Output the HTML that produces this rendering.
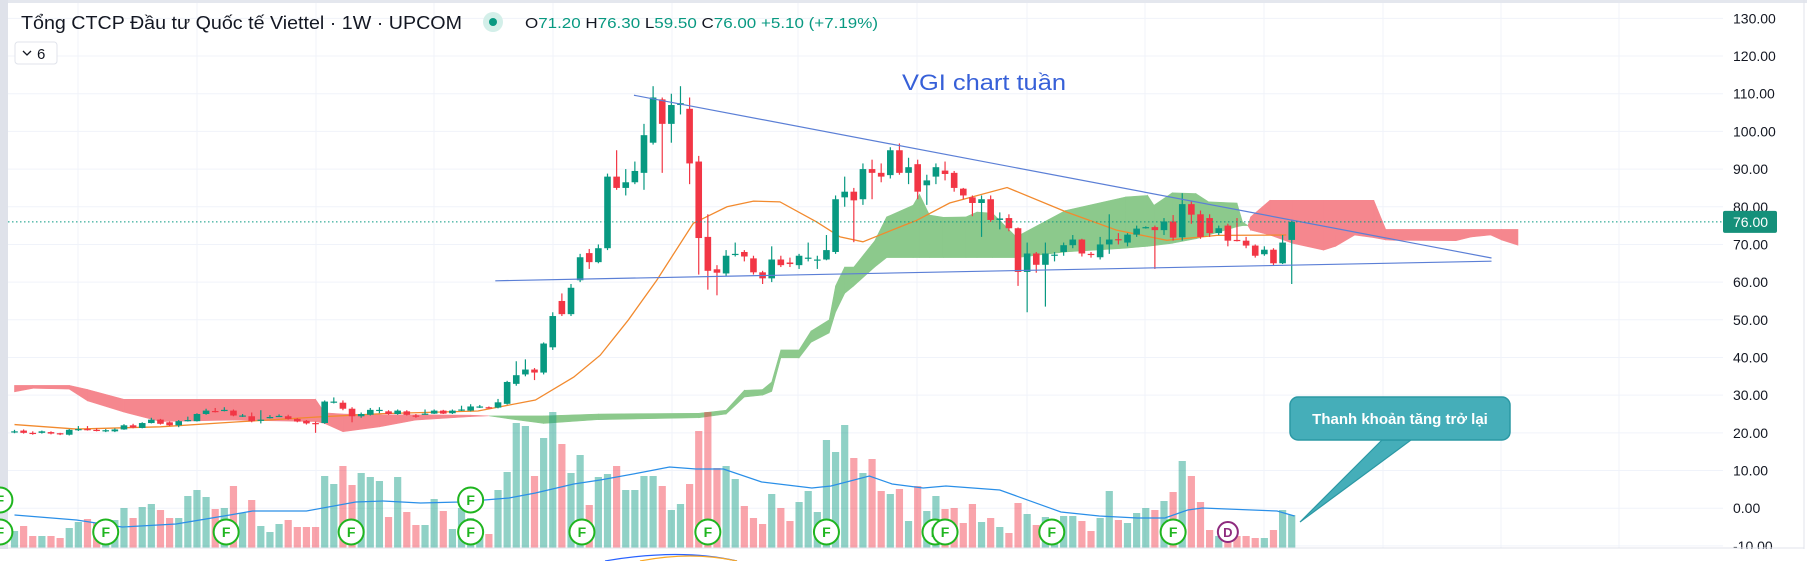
<!DOCTYPE html>
<html><head><meta charset="utf-8"><style>
html,body{margin:0;padding:0;background:#fff;}
svg{display:block;font-family:"Liberation Sans","DejaVu Sans",sans-serif;}
</style></head><body>
<svg id="chart" width="1807" height="561" viewBox="0 0 1807 561" xmlns="http://www.w3.org/2000/svg">
<rect x="0" y="0" width="1807" height="561" fill="#ffffff"/>
<rect x="0" y="0" width="1807" height="3" fill="#e4e7ee"/>
<rect x="0" y="0" width="8" height="561" fill="#dfe2ea"/>
<line x1="1804" y1="0" x2="1804" y2="561" stroke="#e0e3eb"/>
<g id="grid"></g>
<g id="cloud"></g>
<g id="vol"></g>
<g id="lines"></g>
<g id="candles"></g>
<g id="overlay"></g>
<g id="markers"></g>
<g id="axis"></g>
<line x1="8" y1="548" x2="1804" y2="548" stroke="#e0e3eb"/>
<rect x="0" y="549" width="1807" height="12" fill="#ffffff"/>
<path d="M605 561 Q680 548 737 561" fill="none" stroke="#2962ff" stroke-width="1.2"/>
<path d="M640 561 Q691 551 737 561" fill="none" stroke="#f9a825" stroke-width="1.2"/>

<g>
<text x="21" y="29" font-size="18" fill="#131722" textLength="441" lengthAdjust="spacingAndGlyphs">Tổng CTCP Đầu tư Quốc tế Viettel · 1W · UPCOM</text>
<circle cx="493" cy="22" r="10" fill="#d3efe9"/>
<circle cx="493" cy="22" r="4" fill="#089981"/>
<text x="525" y="28" font-size="15" fill="#131722" textLength="353" lengthAdjust="spacingAndGlyphs">O<tspan fill="#089981">71.20</tspan>  H<tspan fill="#089981">76.30</tspan>  L<tspan fill="#089981">59.50</tspan>  C<tspan fill="#089981">76.00</tspan>  <tspan fill="#089981">+5.10 (+7.19%)</tspan></text>
<g>
<rect x="15" y="42" width="42" height="22" rx="3" fill="#fff" stroke="#e0e3eb"/>
<path d="M23 51 L27 55 L31 51" fill="none" stroke="#131722" stroke-width="1.3"/>
<text x="37" y="59" font-size="15" fill="#131722">6</text>
</g>
</g>
<text x="902" y="90" font-size="22" fill="#3760d8" textLength="164" lengthAdjust="spacingAndGlyphs">VGI chart tuần</text>
</svg>
<script>
// ---------- data ----------
var opens=[20.2,20.6,20.0,20.0,20.2,19.9,19.5,20.9,21.0,20.8,20.6,20.4,20.9,22.0,21.3,22.6,23.5,22.8,22.0,23.3,23.1,25.0,25.8,26.0,25.9,24.6,24.4,23.4,24.1,24.4,24.4,23.7,23.2,22.6,22.6,28.3,28.0,26.4,24.4,24.8,26.0,25.7,25.0,25.7,24.6,25.0,25.1,25.9,25.2,26.1,25.9,27.0,26.8,26.7,27.7,33.0,35.5,36.8,36.0,42.7,55.0,51.5,60.5,67.7,65.3,69.0,88.0,85.0,86.5,89.0,97.0,108.5,102.0,107.0,106.0,92.0,72.0,63.4,62.3,67.3,68.0,66.3,62.6,61.0,66.0,65.2,64.5,66.5,66.0,66.0,68.0,82.5,84.0,82.0,90.0,89.0,88.4,95.0,89.0,91.3,85.7,88.0,89.6,89.0,84.8,82.5,81.0,82.0,76.5,77.0,74.3,62.7,67.6,64.6,67.1,68.0,69.8,71.3,67.5,66.6,70.0,71.4,70.5,72.6,74.3,74.6,73.8,76.1,71.9,80.7,78.0,77.0,73.0,75.0,71.2,71.0,69.7,67.4,68.6,65.0,71.2];
var closes=[20.4,20.0,19.9,20.4,19.8,19.8,20.8,21.0,20.9,20.6,20.7,20.9,22.0,21.4,22.6,23.5,22.4,22.0,23.1,23.4,25.0,25.9,25.7,26.1,24.6,24.6,23.1,23.5,24.2,24.5,23.7,23.0,22.5,22.5,28.3,28.3,26.4,24.4,25.0,26.1,26.1,25.0,25.9,24.8,24.5,25.1,25.9,25.1,25.9,26.2,27.0,27.0,26.7,28.1,33.5,35.3,36.8,36.0,43.7,51.0,51.5,58.5,66.6,65.3,69.0,88.0,85.0,86.5,89.5,99.0,109.0,102.0,107.0,107.5,91.5,71.7,63.0,62.5,67.0,67.5,66.8,62.6,61.0,66.0,64.5,64.8,67.0,66.5,66.0,68.5,82.0,84.0,81.7,90.0,89.0,88.0,95.0,89.0,90.5,84.0,87.0,90.5,88.7,85.0,83.0,81.0,82.0,76.5,76.9,74.3,62.7,67.6,64.6,67.6,67.3,69.8,71.3,67.6,67.3,70.0,71.3,71.2,72.6,74.2,74.6,73.8,76.1,71.8,80.7,77.9,72.0,73.0,74.3,71.0,71.0,69.7,67.0,68.6,65.0,70.5,76.0];
var highs=[20.8,20.9,20.4,20.6,20.4,20.0,21.0,21.8,21.8,21.2,21.0,21.2,22.3,22.4,22.8,24.0,23.7,23.0,23.4,24.3,25.2,26.4,26.6,26.8,26.2,25.0,25.4,26.0,24.7,24.9,24.8,23.9,23.4,23.0,28.6,29.4,28.6,26.8,25.4,26.6,26.8,26.0,26.2,26.0,25.0,26.2,26.2,26.1,26.2,27.2,27.6,27.4,27.0,29.0,33.8,39.0,39.5,37.2,44.0,52.0,57.0,59.5,67.5,68.8,70.0,88.8,95.0,90.0,92.0,102.0,112.0,109.0,110.0,112.0,109.0,93.5,78.0,64.5,68.5,70.5,68.5,67.0,63.0,69.5,67.0,66.5,67.5,70.5,67.0,72.5,83.0,88.0,85.0,91.5,92.5,91.5,95.8,96.8,93.0,92.5,88.5,91.5,92.0,89.5,85.0,83.0,83.0,83.0,78.5,78.0,74.5,70.5,68.0,70.5,68.0,70.5,72.5,71.5,68.0,72.0,78.0,73.0,73.0,75.0,74.8,75.0,77.0,77.8,83.6,81.5,79.0,78.0,75.0,75.5,77.0,72.0,70.0,69.5,69.0,72.5,76.3];
var lows=[19.9,19.8,19.5,19.8,19.6,19.4,19.3,20.5,20.6,20.4,20.2,20.2,20.8,21.2,21.2,22.5,22.2,21.8,21.5,23.0,23.0,24.8,25.4,25.7,24.4,24.2,22.8,22.5,23.8,24.2,23.5,22.8,22.2,20.0,22.4,27.8,26.0,22.8,24.0,24.6,25.2,24.8,24.8,24.6,24.0,24.8,25.0,25.0,25.0,25.8,25.7,26.6,26.5,26.5,27.5,32.5,35.0,34.0,35.5,42.0,51.0,51.0,60.0,63.5,65.0,68.5,84.5,83.0,86.0,84.5,96.5,89.0,97.0,104.5,86.0,62.0,58.0,56.5,61.5,66.8,65.5,62.0,59.5,60.0,64.0,64.0,63.5,65.5,63.5,65.8,67.5,80.0,70.6,80.5,82.0,86.5,87.5,88.5,86.0,82.0,80.5,86.0,87.0,84.0,82.0,77.5,72.0,76.0,74.0,73.5,59.0,52.0,62.5,53.5,65.5,67.0,69.0,66.8,66.5,66.0,67.5,70.0,69.5,72.0,74.2,63.5,72.5,71.0,71.0,75.5,71.5,72.0,72.5,69.5,70.8,69.0,66.5,67.0,64.5,64.8,59.5];
var volumes=[17,22,12,12,12,10,20,26,29,25,20,28,40,30,41,44,38,30,30,52,58,51,39,40,62,35,48,22,16,24,28,21,21,21,72,64,82,63,75,71,67,31,71,36,23,23,49,37,19,40,30,12,14,58,76,125,122,72,110,136,104,75,93,43,71,
74,82,58,58,72,72,62,38,44,64,117,136,80,82,69,42,30,24,54,40,27,46,57,36,108,96,123,90,75,89,57,54,59,27,62,37,52,39,40,25,44,26,30,21,15,45,34,23,31,28,32,32,27,17,30,57,28,25,35,40,38,47,56,87,72,46,
18,12,10,12,12,10,10,18,38,33];
var maIdx=[0,6.8,16,24.4,33.2,40.4,50.8,57.1,61.3,64.2,67.3,70.4,74.4,78.1,81,83.9,87.9,90.5,93,97.1,98.9,102.5,108.8,115.3,120.8,126.3,131.8,139.4];
var maVals=[22.2,21,21.6,22.9,24.2,25.1,25.8,28.7,34.8,40.6,50,60.5,75.6,80,81.5,81.3,76,72,70.7,74.7,76.4,81,85.1,78.6,73.8,71.1,72.4,72.5];
var volMaIdx=[0,6.8,11.8,17.7,23.6,26.1,32,37.4,40.4,44.5,48.8,54.2,57.1,61.3,64.2,68.4,71.8,74.7,77.7,81.9,87.4,89.5,93.7,96.2,99.6,102.1,108,114.7,118.9,123.1,126.1,128.6,130.2,138.4,140.3];
var volMaVals=[33,28,21,24,33,37,37,46,47,45,46,50,55,64,68,75,81,79,79,66,60,62,72,64,60,62,58,36,32,30,30,38,40,37,32];
var cloudIdx=[0,2,6,8,12,16,24,33,34,36,40,44,50,52,54,58,64,75,78,80,82,83,84,86,87.3,89.3,90,91,92,94.3,95.6,98.5,99.2,100.3,101.8,104.3,105.5,107.2,109.8,115.2,121.8,124.2,124.9,126.9,129.5,130.9,134,134.6,135.2,135.5,137.6,140.1,143.5,144.8,146.9,149,150.3,151.2,158,159.7,161.8,163,164.8];
var spanA=[30.9,31.8,31.6,28.5,25.5,23.0,23.4,23.0,22.5,20.3,21.6,23.4,24.3,24.5,24.5,24.5,25.0,25.2,26.0,31.3,31.5,33.5,42.0,42.0,47.0,50.0,59,64,64,71,77.3,80.4,83.3,77.8,77.2,77.3,78.6,78.3,72,79,82.6,83,80.4,83.7,83.5,81.3,81,76,75,73.8,72.5,70.3,68.5,69.5,72.5,71.8,71.2,71.1,71,72,72.5,71.2,69.8];
var spanB=[32.6,32.6,32.6,31.5,28.9,28.9,28.9,28.9,25.3,25.0,24.8,24.8,24.7,24.5,23.8,22.5,23.5,24.0,25.0,29.5,30.0,31.0,39.9,39.9,44,46.5,52,57,59,64,66.5,66.5,66.5,66.5,66.5,66.5,66.5,66.5,66.5,68,69,69.5,69.7,70.3,71.5,72.5,74.7,75,75,77.3,81.7,81.7,81.7,81.7,81.7,81.7,74,74,74,74,74,74,74];
var priceTicks=[130,120,110,100,90,80,70,60,50,40,30,20,10,0,-10];
var trendUpperIdx=[67.9,161.9];
var trendUpperVals=[109.6,66.4];
var trendLowerIdx=[52.7,161.9];
var trendLowerVals=[60.35,65.55];
var eventIdx=[-1.6,-1.6,10.0,23.2,36.9,50,50,62.2,76,89,100.9,102,113.7,127,133];
var eventRow=[1,0,0,0,0,1,0,0,0,0,0,0,0,0,0];
var eventType=["F","F","F","F","F","F","F","F","F","F","F","F","F","F","D"];
var lastPrice=76.0;
var gridX=[78,197,316,434,553,672,798,917,1027,1145,1264,1383,1501,1619];

// ---------- axes ----------
function xOf(i){return 14.5+i*9.123;}
function yOf(p){return 508.2-3.768*p;}
function vOf(v){return 548-v*1.0;}
var NS="http://www.w3.org/2000/svg";
function mk(tag,parent,attrs){var e=document.createElementNS(NS,tag);for(var k in attrs)e.setAttribute(k,attrs[k]);parent.appendChild(e);return e;}

var grid=document.getElementById('grid');
priceTicks.forEach(function(p){
  var l=mk('line',grid,{x1:8,x2:1723,y1:yOf(p),y2:yOf(p),stroke:'#f0f3fa','stroke-width':1});
  
  
});
gridX.forEach(function(x){
  var l=mk('line',grid,{x1:x,x2:x,y1:3,y2:548,stroke:'#f0f3fa','stroke-width':1});
  
  
});

// cloud
var cloud=document.getElementById('cloud');
for(var k=0;k<cloudIdx.length-1;k++){
  var x1=xOf(cloudIdx[k]),x2=xOf(cloudIdx[k+1]);
  var bull=(spanA[k]+spanA[k+1])>=(spanB[k]+spanB[k+1]);
  var col=bull?'#8cc98c':'#f5878e';
  var pts=x1+','+yOf(spanA[k])+' '+x2+','+yOf(spanA[k+1])+' '+x2+','+yOf(spanB[k+1])+' '+x1+','+yOf(spanB[k]);
  var pg=mk('polygon',cloud,{points:pts,fill:col,stroke:col,'stroke-width':0.6});
  
  
}

// volume
var vol=document.getElementById('vol');
volumes.forEach(function(v,i){
  var up=closes[i]>=opens[i];
  var r=mk('rect',vol,{x:xOf(i)-3.6,y:vOf(v),width:7.2,height:548-vOf(v),fill:up?'rgba(8,153,129,0.45)':'rgba(242,54,69,0.45)'});
  
  
});

// lines
var lines=document.getElementById('lines');
var vp=volMaIdx.map(function(ix,k){return xOf(ix)+','+vOf(volMaVals[k]);}).join(' ');
var vl=mk('polyline',lines,{points:vp,fill:'none',stroke:'#2a8fe8','stroke-width':1.2});


var mp=maIdx.map(function(ix,k){return xOf(ix)+','+yOf(maVals[k]);}).join(' ');
var ml=mk('polyline',lines,{points:mp,fill:'none',stroke:'#f28a2e','stroke-width':1.3});



// candles
var cg=document.getElementById('candles');
opens.forEach(function(o,i){
  var c=closes[i],up=c>=o,col=up?'#089981':'#f23645',x=xOf(i);
  var w=mk('line',cg,{x1:x,x2:x,y1:yOf(highs[i]),y2:yOf(lows[i]),stroke:col,'stroke-width':1.2});
  
  
  var top=yOf(Math.max(o,c)),bh=Math.max(1.2,yOf(Math.min(o,c))-top);
  var b=mk('rect',cg,{x:x-3.3,y:top,width:6.6,height:bh,fill:col});
  
  
});

// drawings
var ov=document.getElementById('overlay');
var tu=mk('line',ov,{x1:xOf(trendUpperIdx[0]),y1:yOf(trendUpperVals[0]),x2:xOf(trendUpperIdx[1]),y2:yOf(trendUpperVals[1]),stroke:'#5b7fd6','stroke-width':1.2});


var tl=mk('line',ov,{x1:xOf(trendLowerIdx[0]),y1:yOf(trendLowerVals[0]),x2:xOf(trendLowerIdx[1]),y2:yOf(trendLowerVals[1]),stroke:'#5b7fd6','stroke-width':1.2});


var pl=mk('line',ov,{x1:8,x2:1723,y1:yOf(lastPrice),y2:yOf(lastPrice),stroke:'#089981','stroke-width':1,'stroke-dasharray':'1.5,2.5'});


// callout
var cp=mk('path',ov,{d:'M1382 440 L1300 522 L1411 440 Z',fill:'#45aeb9',stroke:'#2b98a4','stroke-width':1.2});


var cb=mk('rect',ov,{x:1290,y:397,width:220,height:43,rx:8,fill:'#45aeb9',stroke:'#2b98a4','stroke-width':1.5});


var ct=mk('text',ov,{x:1400,y:424,'font-size':15,'font-weight':'bold',fill:'#ffffff','text-anchor':'middle'});
ct.textContent='Thanh khoản tăng trở lại';



// markers
var mg=document.getElementById('markers');
eventIdx.forEach(function(ix,k){
  var x=xOf(ix),y=eventRow[k]?500:532,isD=eventType[k]==='D';
  var col=isD?'#8e2a7e':'#1fb51f';
  var c=mk('circle',mg,{cx:x,cy:y,r:isD?10:12.5,fill:'#ffffff',stroke:col,'stroke-width':2});
  
  
  var t=mk('text',mg,{x:x,y:y+5,'font-size':isD?13:14,'font-weight':'bold',fill:col,'text-anchor':'middle'});
  t.textContent=eventType[k];
  
  
});

// axis
var ax=document.getElementById('axis');
priceTicks.forEach(function(p){
  var t=mk('text',ax,{x:1733,y:yOf(p)+5,'font-size':14,fill:'#131722'});
  t.textContent=p.toFixed(2);
  
  
});
var lb=mk('rect',ax,{x:1723,y:yOf(lastPrice)-11,width:54,height:22,rx:2,fill:'#15907a'});


var lt=mk('text',ax,{x:1733,y:yOf(lastPrice)+5,'font-size':14,fill:'#ffffff'});
lt.textContent=lastPrice.toFixed(2);


</script>
</body></html>
